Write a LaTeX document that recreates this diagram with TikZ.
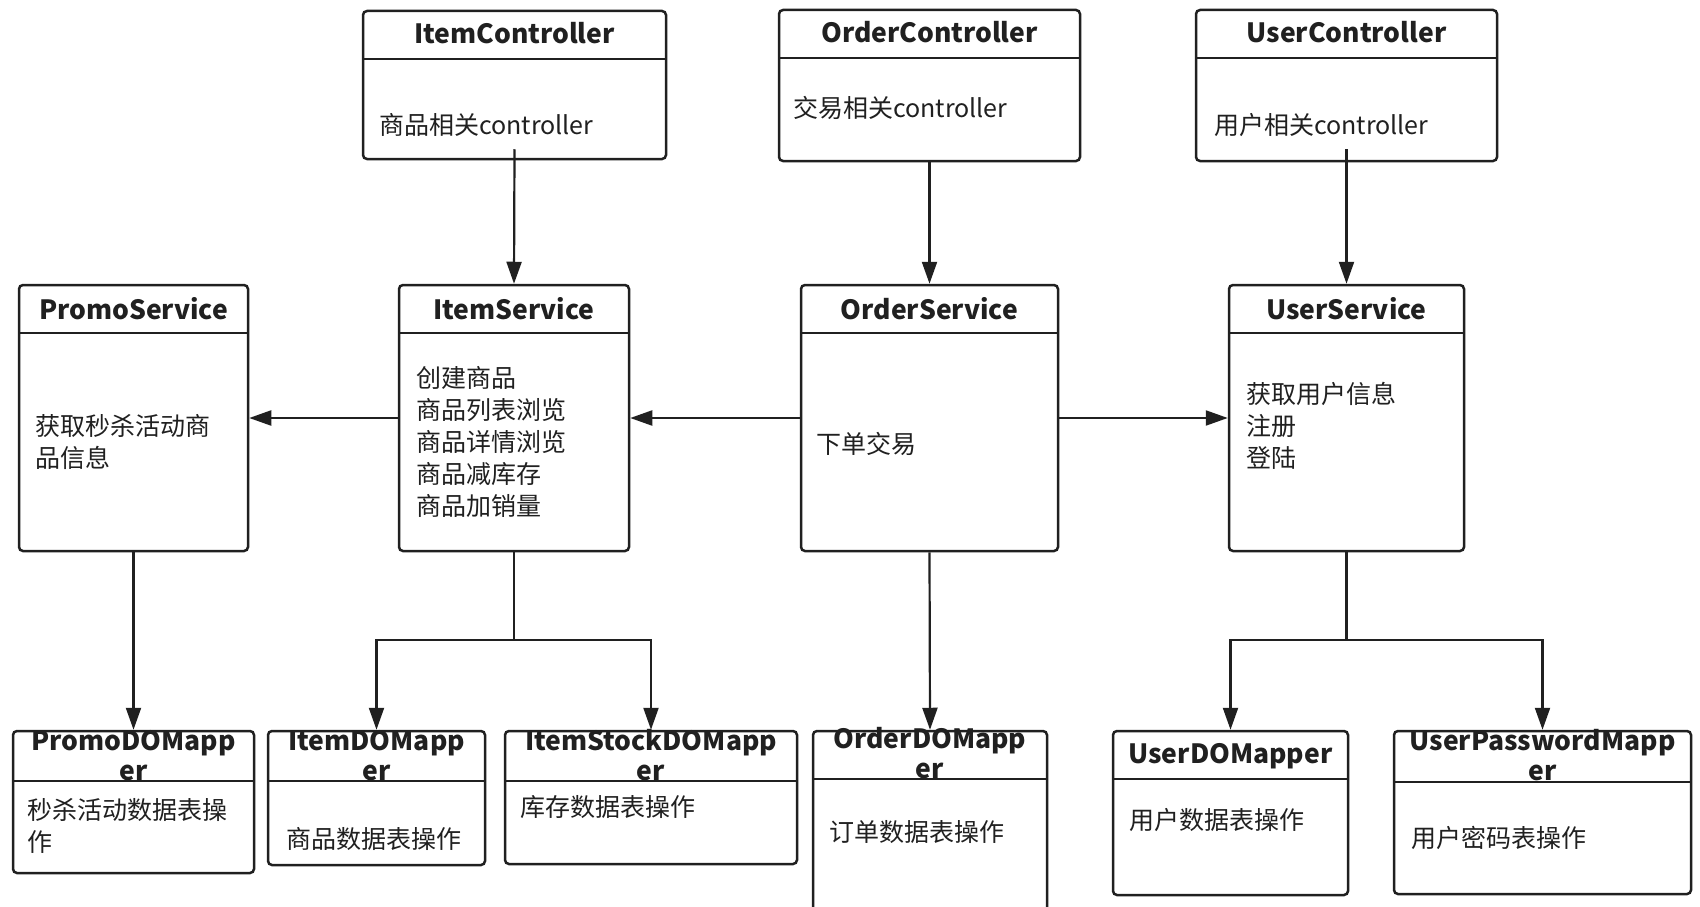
\documentclass[tikz,border=0pt]{standalone}
\usepackage{fontspec}
\setmainfont{Noto Sans CJK SC}
\usetikzlibrary{fit,arrows.meta}
\definecolor{ink}{HTML}{202020}
\newcommand\umlbox[6]{%
  \node[boxst, fit={(#2,#3) (#4,#5)}] (#1) {};
  \draw[sepline] (#2,#6) -- (#4,#6);
}
\begin{document}
\begin{tikzpicture}[x=1pt,y=-1pt,
  boxst/.style={draw=ink, line width=2.5pt, rounded corners=4pt, inner sep=0pt},
  sepline/.style={draw=ink, line width=2.5pt},
  ttl/.style={font=\bfseries\fontsize{26.5}{30}\selectfont, text=ink, anchor=base, inner sep=0pt, align=center},
  bdy/.style={font=\fontsize{25}{32}\selectfont, text=ink, anchor=base west, inner sep=0pt, align=left},
  arr/.style={draw=ink, line width=2.2pt, -{Triangle[length=22pt,width=15pt]}},
]
\useasboundingbox (0,0) rectangle (1700,907);
\fill[white] (0,0) rectangle (1700,907);
\clip (0,0) rectangle (1700,907);

% controllers
\umlbox{ic}{363}{11}{666}{159}{59}
\umlbox{oc}{779}{10}{1080}{161}{58}
\umlbox{uc}{1196}{10}{1497}{161}{58}
% services
\umlbox{ps}{19}{285}{248}{551}{333}
\umlbox{is}{399}{285}{629}{551}{333}
\umlbox{os}{801}{285}{1058}{551}{333}
\umlbox{us}{1229}{285}{1464}{551}{333}
% mappers
\umlbox{pdm}{13}{731}{254}{873}{781}
\umlbox{idm}{268}{731}{485}{865}{781}
\umlbox{isdm}{505}{731}{797}{864}{781}
\umlbox{odm}{813}{731}{1047}{930}{779}
\umlbox{udm}{1113}{731}{1348}{895}{779}
\umlbox{updm}{1394}{731}{1691}{894}{782}

% titles (base anchor = baseline of the last line)
\node[ttl] (ict) at (514.5,44) {ItemController};
\node[ttl] (oct) at (929.5,43) {OrderController};
\node[ttl] (uct) at (1346.5,43) {UserController};
\node[ttl] (pst) at (133.5,319) {PromoService};
\node[ttl] (ist) at (514,319) {ItemService};
\node[ttl] (ost) at (929.5,319) {OrderService};
\node[ttl] (ust) at (1346.5,319) {UserService};
\node[ttl] (pdmt) at (133.5,780) {PromoDOMapp\\er};
\node[ttl] (idmt) at (376.5,780) {ItemDOMapp\\er};
\node[ttl] (isdmt) at (651,780) {ItemStockDOMapp\\er};
\node[ttl] (odmt) at (930,778) {OrderDOMapp\\er};
\node[ttl] (udmt) at (1230.5,763) {UserDOMapper};
\node[ttl] (updmt) at (1542.5,780) {UserPasswordMapp\\er};

% bodies (base anchor = baseline of the last line)
\node[bdy] (icb) at (379,134) {商品相关controller};
\node[bdy] (ocb) at (793,117) {交易相关controller};
\node[bdy] (ucb) at (1214,134) {用户相关controller};
\node[bdy] (psb) at (35,467) {获取秒杀活动商\\品信息};
\node[bdy] (isb) at (416,515) {创建商品\\商品列表浏览\\商品详情浏览\\商品减库存\\商品加销量};
\node[bdy] (osb) at (816,453) {下单交易};
\node[bdy] (usb) at (1246,467) {获取用户信息\\注册\\登陆};
\node[bdy] (pdmb) at (27,851) {秒杀活动数据表操\\作};
\node[bdy] (idmb) at (286,848) {商品数据表操作};
\node[bdy] (isdmb) at (520,816) {库存数据表操作};
\node[bdy] (odmb) at (829,841) {订单数据表操作};
\node[bdy] (udmb) at (1129,829) {用户数据表操作};
\node[bdy] (updmb) at (1411,847) {用户密码表操作};

% connectors
\draw[arr] ([yshift=11pt]ic.south) -- (is.north);
\draw[arr] (oc.south) -- (os.north);
\draw[arr] ([yshift=13pt]uc.south) -- (us.north);
\draw[arr] (is.west) -- (ps.east);
\draw[arr] (os.west) -- (is.east);
\draw[arr] (os.east) -- (us.west);
\draw[arr] (ps.south) -- (pdm.north);
\draw[arr] (os.south) -- (odm.north);
\coordinate (ib) at (514,640);
\coordinate (ub) at (1346.5,640);
\draw[arr] (is.south) -- (ib) -| (idm.north);
\draw[arr] (ib) -| (isdm.north);
\draw[arr] (us.south) -- (ub) -| (udm.north);
\draw[arr] (ub) -| (updm.north);
\end{tikzpicture}
\end{document}
